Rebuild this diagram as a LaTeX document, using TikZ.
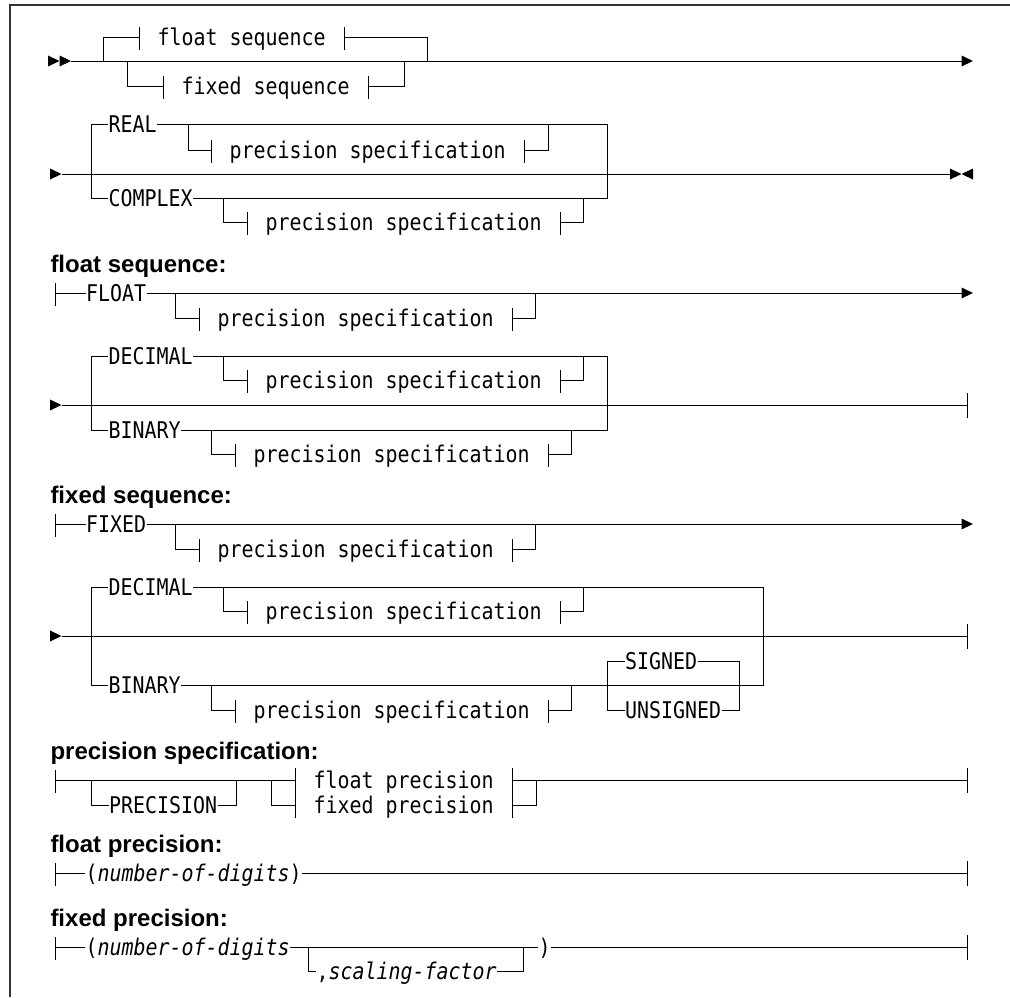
\documentclass[tikz,border=0pt]{standalone}
\usepackage{fontspec}
\newfontfamily\rrfont[FakeStretch=0.867]{DejaVu Sans Mono}
\newfontfamily\lblfamily{Liberation Sans}
% right-pointing filled triangle, tip at (#1,#2)
\newcommand\rtri[2]{\fill (#1-11.5,#2-5.5) -- (#1,#2) -- (#1-11.5,#2+5.5) -- cycle;}
% left-pointing filled triangle, tip at (#1,#2)
\newcommand\ltri[2]{\fill (#1+11.5,#2-5.5) -- (#1,#2) -- (#1+11.5,#2+5.5) -- cycle;}
% small tick at a point
\newcommand\tk[1]{\draw (#1) ++(0,-10) -- ++(0,23);}
% end tick
\newcommand\etk[1]{\draw (#1) ++(0,-12) -- ++(0,25);}
\tikzset{
  rail/.style={line width=1pt},
  frame/.style={line width=2pt, black!80},
  kw/.style={font=\rrfont\fontsize{23pt}{26pt}\selectfont, inner sep=0pt,
             text height=20pt, text depth=3pt, anchor=west},
  nt/.style={kw, inner xsep=18pt},
  lbl/.style={font=\lblfamily\bfseries\fontsize{24pt}{28pt}\selectfont,
              inner sep=0pt, anchor=base west},
}
\begin{document}
\begin{tikzpicture}[x=1pt,y=-1pt,rail]
\useasboundingbox (0,0) rectangle (1010,997);
\draw[frame] (1010,5) -- (10,5) -- (10,997);

% ---------- Row A ----------
\rtri{59.5}{61}\rtri{71}{61}
\node[nt] (fs) at (139,37) {float sequence};
\node[nt] (xs) at (163,86) {fixed sequence};
\draw (71,61) -- (962,61);
\rtri{973}{61}
\draw (103,61) -- (103,37) -- (fs.west);
\draw (fs.east) -- (427,37) -- (427,61);
\draw (127,61) -- (127,86) -- (xs.west);
\draw (xs.east) -- (404,86) -- (404,61);
\tk{fs.west}\tk{fs.east}\tk{xs.west}\tk{xs.east}

% ---------- Row B ----------
\rtri{61.5}{174}
\draw (61.5,174) -- (951,174);
\rtri{961.5}{174}\ltri{961.5}{174}
\node[kw] (real) at (108,124) {REAL};
\node[kw] (cplx) at (108,198) {COMPLEX};
\draw (real.west) -- (91,124) -- (91,198) -- (cplx.west);
\draw (real.east) -- (607.4,124) -- (607.4,198) -- (cplx.east);
\node[nt] (ps1) at (211,150) {precision specification};
\draw (188,124) -- (188,150) -- (ps1.west);
\draw (ps1.east) -- (548,150) -- (548,124);
\node[nt] (ps2) at (247,222) {precision specification};
\draw (223,198) -- (223,222) -- (ps2.west);
\draw (ps2.east) -- (583.7,222) -- (583.7,198);
\tk{ps1.west}\tk{ps1.east}\tk{ps2.west}\tk{ps2.east}

% ---------- float sequence ----------
\node[lbl] (l1) at (50,272.5) {float sequence:};
\coordinate (s1) at (55,293);
\node[kw] (flt) at (85.5,293) {FLOAT};
\draw (s1) -- (flt.west);
\draw (flt.east) -- (962,293);
\rtri{973}{293}
\tk{s1}
\node[nt] (ps3) at (199,318) {precision specification};
\draw (175,293) -- (175,318) -- (ps3.west);
\draw (ps3.east) -- (535,318) -- (535,293);
\tk{ps3.west}\tk{ps3.east}

\rtri{61.5}{405}
\coordinate (e2) at (967,405);
\draw (61.5,405) -- (e2);
\etk{e2}
\node[kw] (dec1) at (108,356) {DECIMAL};
\node[kw] (bin1) at (108,430) {BINARY};
\draw (dec1.west) -- (91,356) -- (91,430) -- (bin1.west);
\draw (dec1.east) -- (607.4,356) -- (607.4,430) -- (bin1.east);
\node[nt] (ps4) at (247,380) {precision specification};
\draw (223,356) -- (223,380) -- (ps4.west);
\draw (ps4.east) -- (583.7,380) -- (583.7,356);
\node[nt] (ps5) at (235,454) {precision specification};
\draw (211,430) -- (211,454) -- (ps5.west);
\draw (ps5.east) -- (571.3,454) -- (571.3,430);
\tk{ps4.west}\tk{ps4.east}\tk{ps5.west}\tk{ps5.east}

% ---------- fixed sequence ----------
\node[lbl] (l2) at (50,503) {fixed sequence:};
\coordinate (s2) at (55,524);
\node[kw] (fxd) at (85.5,524) {FIXED};
\draw (s2) -- (fxd.west);
\draw (fxd.east) -- (962,524);
\rtri{973}{524}
\tk{s2}
\node[nt] (ps6) at (199,549) {precision specification};
\draw (175,524) -- (175,549) -- (ps6.west);
\draw (ps6.east) -- (535,549) -- (535,524);
\tk{ps6.west}\tk{ps6.east}

\rtri{61.5}{636}
\coordinate (e3) at (967,636);
\draw (61.5,636) -- (e3);
\etk{e3}
\node[kw] (dec2) at (108,587) {DECIMAL};
\node[kw] (bin2) at (108,685) {BINARY};
\draw (dec2.west) -- (91,587) -- (91,685) -- (bin2.west);
\draw (dec2.east) -- (763.6,587) -- (763.6,685) -- (bin2.east);
\node[nt] (ps7) at (247,611) {precision specification};
\draw (223,587) -- (223,611) -- (ps7.west);
\draw (ps7.east) -- (583.7,611) -- (583.7,587);
\node[nt] (ps8) at (235,710) {precision specification};
\draw (211,685) -- (211,710) -- (ps8.west);
\draw (ps8.east) -- (571.3,710) -- (571.3,685);
\tk{ps7.west}\tk{ps7.east}\tk{ps8.west}\tk{ps8.east}
\node[kw] (sg) at (624.5,661) {SIGNED};
\node[kw] (usg) at (624.5,710) {UNSIGNED};
\draw (sg.west) -- (607,661) -- (607,710) -- (usg.west);
\draw (sg.east) -- (739.2,661) -- (739.2,710) -- (usg.east);

% ---------- precision specification ----------
\node[lbl] (l3) at (50,759) {precision specification:};
\coordinate (s3) at (55,780);
\tk{s3}
\node[nt] (fp) at (295,780) {float precision};
\node[nt] (xp) at (295,805) {fixed precision};
\node[kw] (prc) at (108.5,805) {PRECISION};
\draw (s3) -- (fp.west);
\draw (91,780) -- (91,805) -- (prc.west);
\draw (prc.east) -- (236,805) -- (236,780);
\draw (271,780) -- (271,805) -- (xp.west);
\draw (fp.west) ++(0,-12) -- ++(0,50);
\draw (fp.east) ++(0,-12) -- ++(0,50);
\coordinate (e4) at (967,780);
\draw (fp.east) -- (e4);
\etk{e4}
\draw (xp.east) -- (536,805) -- (536,780);

% ---------- float precision ----------
\node[lbl] (l4) at (50,852.5) {float precision:};
\coordinate (s4) at (55,873);
\tk{s4}
\node[kw] (nd1) at (85,873) {(\textit{number-of-digits})};
\coordinate (e5) at (967,873);
\draw (s4) -- (nd1.west);
\draw (nd1.east) -- (e5);
\etk{e5}

% ---------- fixed precision ----------
\node[lbl] (l5) at (50,926) {fixed precision:};
\coordinate (s5) at (55,947);
\tk{s5}
\node[kw] (nd2) at (85,947) {(\textit{number-of-digits}};
\node[kw] (rp) at (538,947) {)};
\node[kw] (sf) at (316,971) {,\textit{scaling-factor}};
\coordinate (e6) at (967,947);
\draw (s5) -- (nd2.west);
\draw (nd2.east) -- (rp.west);
\draw (308,947) -- (308,971) -- (sf.west);
\draw (sf.east) -- (523,971) -- (523,947);
\draw (rp.east) -- (e6);
\etk{e6}
\end{tikzpicture}
\end{document}
